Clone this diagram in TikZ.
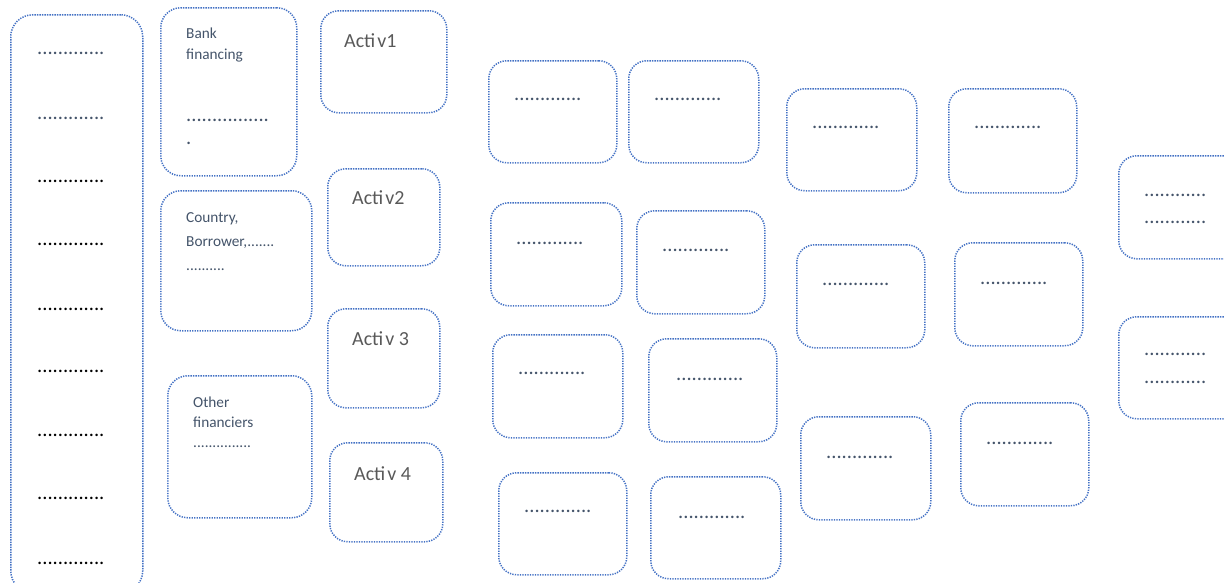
\documentclass[tikz,border=0pt]{standalone}
\usepackage{fontspec}
\setmainfont{Carlito}
\definecolor{boxblue}{HTML}{4472C4}
\definecolor{txtgray}{HTML}{44546A}
\definecolor{actgray}{HTML}{595959}
\tikzset{
  box/.style={draw=boxblue, line width=1.5pt, dash pattern=on 1.3pt off 1.2pt, rounded corners=18pt, anchor=north west, inner sep=0pt},
  txt/.style={anchor=base west, inner sep=0pt, text=txtgray, font=\fontsize{15.3}{17}\selectfont},
  dots/.style={anchor=base west, inner sep=0pt, text=txtgray, font=\fontsize{20.5}{21}\selectfont},
  bdots/.style={dots, text=black},
  act/.style={anchor=base west, inner sep=0pt, text=actgray, font=\fontsize{20}{22}\selectfont}
}
\begin{document}
\begin{tikzpicture}[x=1pt,y=-1pt]
\useasboundingbox (0,0) rectangle (1224,582);
% left column
\node[box, rounded corners=22pt, minimum width=132pt, minimum height=578pt] (L) at (10,14) {};
\node[dots] (l1) at (37,54) {.............};
\node[dots] (l2) at (37,119) {.............};
\node[bdots] (l3) at (37,182) {.............};
\node[bdots] (l4) at (37,245) {.............};
\node[bdots] (l5) at (37,310) {.............};
\node[bdots] (l6) at (37,372) {.............};
\node[bdots] (l7) at (37,436) {.............};
\node[bdots] (l8) at (37,499) {.............};
\node[bdots] (l9) at (37,564) {.............};
% financing boxes
\node[box, rounded corners=20pt, minimum width=136pt, minimum height=168pt] (bank) at (160,7) {};
\node[txt] (bank1) at (186,38) {Bank};
\node[txt] (bank2) at (186,59) {financing};
\node[dots] (bank3) at (186,121) {................};
\node[dots] (bank4) at (186,144) {.};
\node[box, rounded corners=20pt, minimum width=151pt, minimum height=140pt] (ctry) at (160,190) {};
\node[txt] (ctry1) at (186,222) {Country,};
\node[txt] (ctry2) at (186,246) {Borrower,.......};
\node[txt] (ctry3) at (186,270) {..........};
\node[box, rounded corners=20pt, minimum width=144pt, minimum height=142pt] (oth) at (167,375) {};
\node[txt] (oth1) at (193,407) {Other};
\node[txt] (oth2) at (193,427) {financiers};
\node[txt] (oth3) at (193,447) {...............};
% activities
\node[box, minimum width=126pt, minimum height=102pt] (a1) at (320,10) {};
\node[act] (a1t) at (344,47) {Acti\kern2pt v1};
\node[box, minimum width=112pt, minimum height=97pt] (a2) at (327,168) {};
\node[act] (a2t) at (352,204) {Acti\kern2pt v2};
\node[box, minimum width=112pt, minimum height=99pt] (a3) at (327,308) {};
\node[act] (a3t) at (352,345) {Acti\kern2pt v 3};
\node[box, minimum width=113pt, minimum height=99pt] (a4) at (329,442) {};
\node[act] (a4t) at (354,480) {Acti\kern2pt v 4};
% column A
\node[box, minimum width=128pt, minimum height=102pt] (A1) at (488,60) {};
\node[dots] (A1t) at (514,100) {.............};
\node[box, minimum width=131pt, minimum height=103pt] (A2) at (490,202) {};
\node[dots] (A2t) at (516,244) {.............};
\node[box, minimum width=130pt, minimum height=103pt] (A3) at (492,334) {};
\node[dots] (A3t) at (518,374) {.............};
\node[box, minimum width=128pt, minimum height=102pt] (A4) at (498,472) {};
\node[dots] (A4t) at (524,512) {.............};
% column B
\node[box, minimum width=130pt, minimum height=102pt] (B1) at (628,60) {};
\node[dots] (B1t) at (654,100) {.............};
\node[box, minimum width=128pt, minimum height=103pt] (B2) at (636,210) {};
\node[dots] (B2t) at (662,251) {.............};
\node[box, minimum width=128pt, minimum height=103pt] (B3) at (648,338) {};
\node[dots] (B3t) at (676,380) {.............};
\node[box, minimum width=130pt, minimum height=102pt] (B4) at (650,476) {};
\node[dots] (B4t) at (678,518) {.............};
% column C
\node[box, minimum width=130pt, minimum height=102pt] (C1) at (786,88) {};
\node[dots] (C1t) at (812,128) {.............};
\node[box, minimum width=128pt, minimum height=103pt] (C2) at (796,244) {};
\node[dots] (C2t) at (822,285) {.............};
\node[box, minimum width=130pt, minimum height=103pt] (C3) at (800,416) {};
\node[dots] (C3t) at (826,458) {.............};
% column D
\node[box, minimum width=128pt, minimum height=104pt] (D1) at (948,88) {};
\node[dots] (D1t) at (974,128) {.............};
\node[box, minimum width=128pt, minimum height=103pt] (D2) at (954,242) {};
\node[dots] (D2t) at (980,284) {.............};
\node[box, minimum width=128pt, minimum height=103pt] (D3) at (960,402) {};
\node[dots] (D3t) at (986,444) {.............};
% column E
\node[box, minimum width=128pt, minimum height=103pt] (E1) at (1118,155) {};
\node[dots] (E1a) at (1144,196) {............};
\node[dots] (E1b) at (1144,223) {............};
\node[box, minimum width=128pt, minimum height=102pt] (E2) at (1118,316) {};
\node[dots] (E2a) at (1144,355) {............};
\node[dots] (E2b) at (1144,383) {............};
\end{tikzpicture}
\end{document}
